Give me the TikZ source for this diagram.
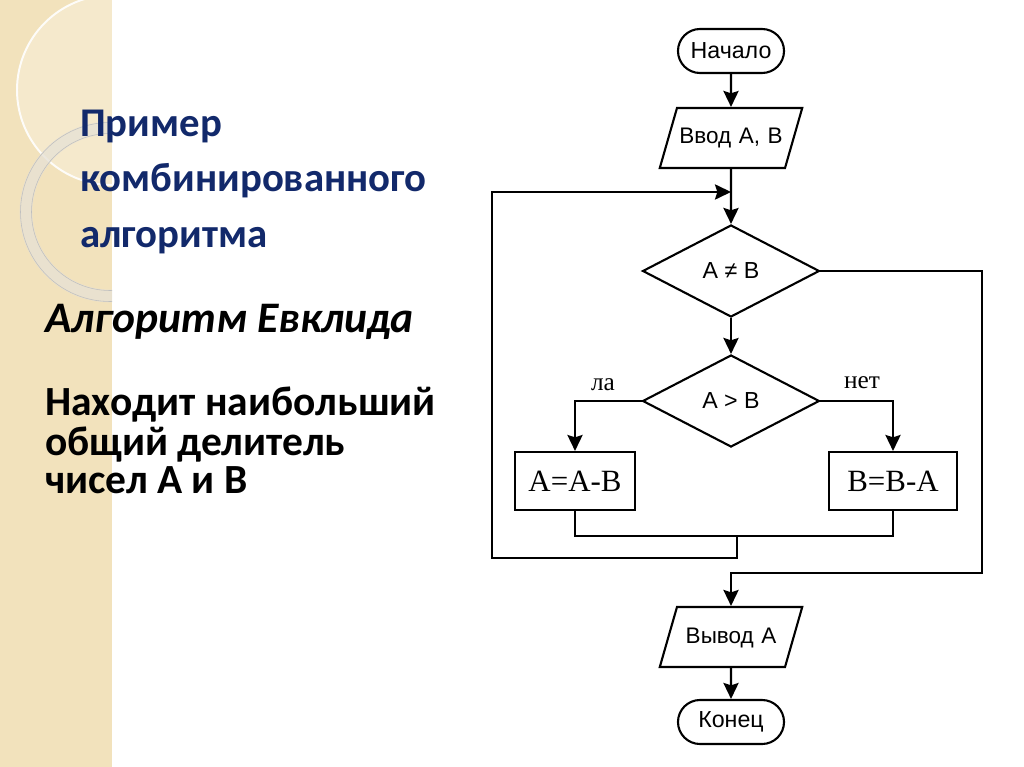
\documentclass[tikz,border=0pt]{standalone}
\usepackage{fontspec}
\setmainfont{Liberation Sans}
\newfontfamily\slidefont{Carlito}
\newfontfamily\timesfont{Liberation Serif}
\usetikzlibrary{arrows.meta, positioning, shapes.geometric, shapes.misc}
\definecolor{slideNavy}{HTML}{12296B}
\definecolor{stripeBeige}{HTML}{F2E2BC}
\definecolor{ringGray}{HTML}{E6E1D6}
\tikzset{
  arrowF/.style={-{Stealth[length=4mm, width=3.8mm, inset=0.6mm]}, line width=1.5pt},
  lineF/.style={line width=1.5pt},
  termBox/.style={rounded rectangle, draw, line width=1.5pt, minimum width=2.65cm,
                  minimum height=1.1cm, inner sep=0pt, font=\fontsize{16.5}{18}\selectfont},
  ioBox/.style={trapezium, trapezium left angle=74, trapezium right angle=106,
                draw, line width=1.5pt, text width=2.7cm, align=center,
                text height=0.4cm, text depth=0.1cm, inner xsep=0pt, inner ysep=0.5cm,
                font=\fontsize{16}{18}\selectfont},
  decBox/.style={diamond, draw, line width=1.5pt, minimum width=4.42cm,
                 minimum height=2.3cm, inner sep=0pt, font=\fontsize{16.5}{18}\selectfont},
  procBox/.style={rectangle, draw, line width=1.5pt, minimum height=1.45cm,
                  inner sep=0pt, font=\timesfont\fontsize{22}{24}\selectfont},
  branchLbl/.style={font=\timesfont\fontsize{18}{20}\selectfont, anchor=base},
  titleTxt/.style={anchor=base west, inner sep=0pt, text=slideNavy,
                   font=\slidefont\bfseries\fontsize{29}{34}\selectfont},
  bodyTxt/.style={anchor=base west, inner sep=0pt,
                  font=\slidefont\bfseries\fontsize{29.5}{34}\selectfont},
}

\begin{document}
\begin{tikzpicture}[x=0.025cm, y=-0.025cm]
  \useasboundingbox (0,0) rectangle (1024,767);
  % left decorative stripe
  \fill[white] (0,0) rectangle (1024,767);
  \fill[stripeBeige] (0,0) rectangle (112,767);
  \begin{scope}
    \clip (0,0) rectangle (112,767);
    \fill[white, opacity=0.25] (112,90) circle (95);
    \draw[white, line width=1.4pt, opacity=0.9] (112,90) circle (95);
    \draw[ringGray, line width=9pt, opacity=0.75] (110,212) circle (84);
    \draw[black!25, line width=0.4pt] (110,212) circle (78.5) (110,212) circle (89.5);
  \end{scope}

  % slide texts
  \node[titleTxt] (t1) at (80,137) {Пример};
  \node[titleTxt] (t2) at (80,192) {комбинированного};
  \node[titleTxt] (t3) at (80,247) {алгоритма};
  \node[bodyTxt, font=\slidefont\bfseries\itshape\fontsize{31}{34}\selectfont]
    (euc) at (45,332) {Алгоритм Евклида};
  \node[bodyTxt] (d1) at (45,415) {Находит наибольший};
  \node[bodyTxt] (d2) at (45,455) {общий делитель};
  \node[bodyTxt] (d3) at (45,493) {чисел А и В};

  % flowchart
  \node[termBox] (start) at (731,51)  {Начало};
  \node[ioBox]   (inp)   at (731,138) {Ввод~А,~В};
  \node[decBox]  (ne)    at (731,271) {А ≠ В};
  \node[decBox]  (gt)    at (731,401) {А > В};
  \node[procBox, minimum width=3cm]  (subA) at (575,481) {A=A-B};
  \node[procBox, minimum width=3.2cm] (subB) at (893,481) {B=B-A};
  \node[ioBox]   (outp)  at (731,637) {Вывод~А};
  \node[termBox] (stop)  at (731,722) {Конец};

  \coordinate (loop) at (731,192);
  \coordinate (mrg)  at (737,536);
  \coordinate (back) at (492,558);
  \coordinate (rgt)  at (982,573);

  \draw[arrowF] (start) -- (inp);
  \draw[arrowF] (inp) -- (ne);
  \draw[arrowF] (ne) -- (gt);
  \draw[arrowF] (gt.west) -| (subA.north);
  \draw[arrowF] (gt.east) -| (subB.north);
  \draw[lineF] (subA.south) |- (mrg) -| (subB.south);
  \draw[arrowF] (mrg) |- (back) |- (loop);
  \draw[arrowF] (ne.east) -| (rgt) -| (outp.north);
  \draw[arrowF] (outp) -- (stop);

  \node[branchLbl] (yes) at (603,390) {ла};
  \node[branchLbl] (no)  at (862,388) {нет};
\end{tikzpicture}
\end{document}
